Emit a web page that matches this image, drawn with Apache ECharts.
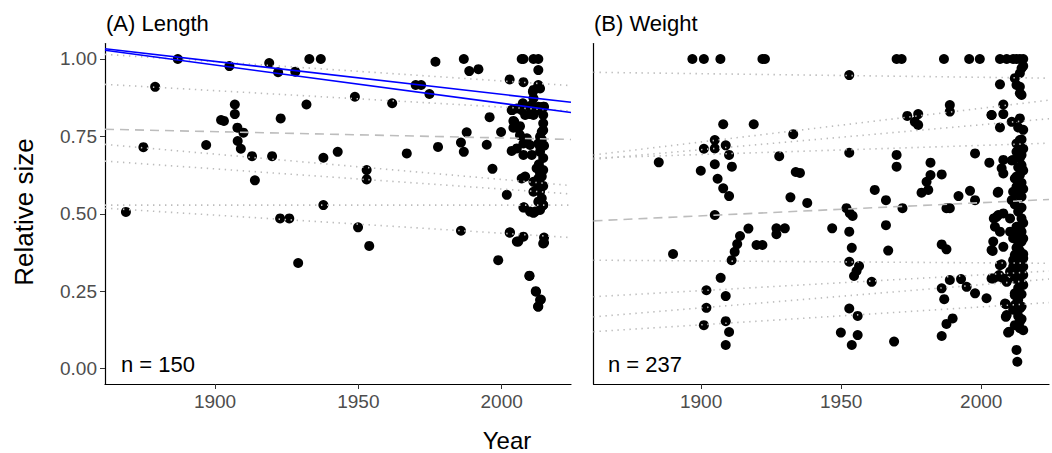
<!DOCTYPE html>
<html><head><meta charset="utf-8">
<script src="https://cdn.jsdelivr.net/npm/echarts@6/dist/echarts.min.js"></script>
<style>html,body{margin:0;padding:0;background:#fff}#c{width:1052px;height:453px}</style>
</head><body><div id="c"></div>
<script>
// ---------- data ----------
const xTicks = [1900, 1950, 2000];
const yTicks = [0, 0.25, 0.5, 0.75, 1];
const xRange = [1861.6, 2024.2];
const yRange = [-0.05, 1.05];

// (A) Length: [year, relative size]
const lengthPoints = [
[1868.9,0.506],[1875.0,0.715],[1879.1,0.910],[1887.0,1.00],[1896.9,0.722],[1902.1,0.803],[1903.1,0.80],[1905.0,0.977],
[1906.9,0.853],[1906.9,0.822],[1907.8,0.778],[1909.9,0.762],[1907.9,0.735],[1909.0,0.71],[1912.9,0.686],[1913.9,0.608],
[1918.9,0.987],[1922.0,0.957],[1922.9,0.808],[1919.9,0.686],[1928.0,0.959],[1931.9,0.853],[1932.9,1.0],[1936.9,1.0],
[1937.8,0.681],[1942.8,0.70],[1937.8,0.528],[1922.7,0.485],[1925.9,0.485],[1929.0,0.341],
[1976.9,0.991],[1986.8,1.0],[1988.7,0.961],[1991.9,0.967],[1948.8,0.878],[1961.8,0.857],[1970.0,0.916],[1971.9,0.916],
[1974.8,0.887],[1966.9,0.695],[1977.8,0.716],[1987.8,0.763],[1985.8,0.73],[1986.8,0.70],[1994.8,0.723],[1995.8,0.812],
[1996.8,0.645],[1999.8,0.764],[2002.8,0.934],[2001.8,0.561],[1952.9,0.641],[1952.9,0.611],[1949.9,0.456],[1953.8,0.396],
[1985.8,0.445],[1998.8,0.35],
[2002.8,0.439],[2005.8,0.41],[2007.6,0.426],[2009.7,0.299],[2011.9,0.25],[2013.7,0.223],[2012.7,0.2],[2014.8,0.423],
[2014.8,0.406],[2007.8,0.521],[2011.1,0.503],[2014.5,0.528],
[2007.0,1.0],[2011.1,1.0],[2012.8,1.0],[2007.6,1.0],[2012.8,0.964],[2007.6,0.925],[2012.8,0.916],[2011.1,0.90],
[2013.4,0.905],[2011.1,0.873],[2007.6,0.851],[2009.9,0.846],[2012.8,0.846],[2014.5,0.846],[2003.5,0.835],[2005.3,0.84],
[2008.2,0.819],[2011.1,0.819],[2014.5,0.819],[2004.1,0.80],[2014.5,0.792],[2004.1,0.778],[2005.8,0.776],[2014.0,0.765],
[2006.4,0.754],[2008.8,0.744],[2013.4,0.749],[2007.6,0.727],[2009.9,0.722],[2012.8,0.727],[2003.5,0.703],[2005.3,0.711],
[2007.6,0.69],[2010.5,0.69],[2013.4,0.717],[2012.2,0.647],[2014.5,0.641],[2013.4,0.63],[2007.0,0.614],[2008.2,0.62],
[2011.1,0.603],[2012.8,0.614],[2014.0,0.587],[2011.1,0.571],[2013.4,0.571],[2014.0,0.55],[2012.8,0.539],[2014.5,0.528],
[2007.6,0.52],[2009.9,0.507],[2011.7,0.507],[2013.4,0.512],[2002.9,0.44],[2005.3,0.41],[2014.5,0.404],[2009.7,0.30],
[2012.0,0.248],[2013.4,0.221],[2012.8,0.2],
[2003.7,0.835],[2007.0,0.835],[2009.9,0.822],[2013.0,0.835],[2014.8,0.846],[2004.4,0.797],[2006.4,0.783],[2010.9,0.894],
[2007.4,0.857],[2010.5,0.851],
[2014.5,0.77],[2014.0,0.74],[2014.8,0.72],[2013.4,0.70],[2014.5,0.68],[2013.0,0.66],[2014.0,0.62],[2013.0,0.60],
[2014.5,0.59],[2012.5,0.58]
];

// (B) Weight: [year, relative size]
const weightPoints = [
[1896.9,1.0],[1901.0,1.0],[1906.9,1.0],[1921.9,1.0],[1922.8,1.0],[1969.8,1.0],[1971.6,1.0],[1986.7,1.0],[1995.7,1.0],[1999.5,1.0],
[1907.9,0.789],[1918.8,0.789],[1932.9,0.757],[1904.9,0.738],[1901.0,0.71],[1904.9,0.711],[1908.8,0.721],[1910.0,0.69],
[1884.9,0.666],[1927.9,0.686],[1904.9,0.66],[1911.0,0.652],[1899.9,0.639],[1933.8,0.635],[1905.9,0.613],[1907.9,0.582],
[1910.0,0.557],[1931.9,0.553],[1937.9,0.535],[1904.9,0.496],[1890.0,0.37],[1916.9,0.452],[1913.9,0.428],[1912.9,0.402],
[1912.0,0.377],[1910.9,0.35],[1919.8,0.399],[1921.9,0.399],[1926.9,0.453],[1929.9,0.453],[1926.9,0.434],[1907.0,0.293],
[1901.9,0.253],[1908.8,0.234],[1901.9,0.196],[1901.0,0.14],[1908.8,0.153],[1910.0,0.118],[1908.8,0.076],
[1952.9,0.948],[1973.6,0.816],[1977.5,0.822],[1976.3,0.797],[1977.5,0.787],[1988.8,0.851],[1988.8,0.83],[2003.7,0.819],
[1952.9,0.697],[1969.8,0.69],[1969.8,0.652],[1981.9,0.665],[1997.8,0.695],[2002.9,0.665],[1935.3,0.632],[1981.9,0.625],
[1985.9,0.627],[1980.5,0.603],[1981.1,0.577],[1978.7,0.568],[1962.0,0.577],[1966.0,0.544],[1951.9,0.518],[1953.1,0.502],
[1954.1,0.493],[1971.9,0.518],[1987.6,0.518],[1988.8,0.518],[1991.9,0.557],[1996.0,0.574],[1997.8,0.544],[2005.9,0.568],
[1946.8,0.453],[1952.9,0.442],[1966.0,0.463],[1953.8,0.39],[1966.8,0.381],[1952.9,0.345],[1956.4,0.331],[1955.5,0.315],
[1954.6,0.299],[1960.9,0.28],[1952.9,0.194],[1955.9,0.17],[1949.9,0.116],[1955.9,0.108],[1953.8,0.076],[1968.9,0.087],
[1985.9,0.401],[1987.6,0.385],[1985.9,0.259],[1986.8,0.224],[1988.8,0.286],[1992.8,0.289],[1994.8,0.264],[1997.8,0.243],
[2001.9,0.227],[1989.8,0.162],[1987.6,0.144],[1985.9,0.105],
[2006.7,1.0],[2009.1,1.0],[2011.4,1.0],[2013.8,1.0],[2012.6,1.0],[2015.0,1.0],
[2015.0,0.977],[2013.8,0.954],[2012.0,0.938],[2012.6,0.916],[2013.8,0.889],[2014.4,0.884],[2014.4,0.97],[2013.8,0.91],
[2006.7,0.918],[2007.9,0.853],[2007.9,0.822],[2003.7,0.819],[2006.7,0.779],[2010.9,0.797],[2013.8,0.808],[2013.2,0.779],
[2015.0,0.771],[2012.6,0.727],[2013.8,0.738],[2007.9,0.674],[2010.9,0.672],[2013.8,0.68],[2014.4,0.657],[2007.3,0.647],
[2007.9,0.63],[2011.4,0.674],[2013.2,0.65],[2013.8,0.625],
[2012.0,0.614],[2012.6,0.587],[2011.4,0.571],[2014.4,0.555],[2006.1,0.571],[2010.9,0.544],
[2005.5,0.49],[2007.9,0.501],[2010.3,0.485],[2013.2,0.507],[2014.4,0.485],
[2004.9,0.458],[2006.7,0.442],[2010.3,0.442],[2012.6,0.458],[2014.4,0.442],
[2011.4,0.421],[2013.2,0.399],[2014.4,0.41],[2004.3,0.41],[2003.7,0.383],[2007.9,0.393],
[2012.0,0.367],[2013.2,0.345],[2011.4,0.329],[2015.0,0.356],[2015.0,0.329],[2007.3,0.337],
[2010.3,0.313],[2013.2,0.308],[2015.0,0.302],[2006.4,0.302],[2004.3,0.291],[2009.1,0.28],[2007.9,0.291],
[2012.0,0.243],[2013.2,0.221],[2012.0,0.205],[2013.8,0.194],[2008.5,0.21],[2009.1,0.173],
[2013.8,0.151],[2015.0,0.124],[2010.0,0.119],[2012.6,0.06],[2012.9,0.022],
[2004.5,0.485],[2006.1,0.496],[2004.1,0.38],[2006.7,0.334],[2003.7,0.291],[2006.1,0.297],
[2008.8,0.208],[2008.8,0.167],[2009.6,0.116],[2012.0,0.237],[2012.6,0.21],
[2014.4,0.74],[2015.0,0.71],[2014.4,0.69],[2012.6,0.70],[2015.0,0.64],[2012.6,0.62],[2014.4,0.60],[2015.0,0.58],
[2013.2,0.56],[2012.0,0.53],[2014.4,0.52],[2015.0,0.47],[2013.8,0.46],[2012.6,0.43],[2015.0,0.42],[2013.8,0.38],
[2012.6,0.39],[2015.0,0.37],[2014.4,0.34],[2011.4,0.35],[2012.6,0.32],[2013.8,0.28],[2015.0,0.27],[2012.0,0.29],
[2013.2,0.26],[2014.4,0.24],[2014.4,0.20],[2011.4,0.19],[2013.2,0.17],[2014.4,0.16],[2012.0,0.14],[2013.8,0.13]
];

// fitted lines: [value at left edge of x range, value at right edge]
const lengthDotted = [[1.015,0.914],[0.918,0.832],[0.724,0.591],[0.670,0.564],[0.518,0.423],[0.528,0.528]];
const lengthDashed = [0.773, 0.740];
const lengthBlue = [[1.033,0.860],[1.028,0.827]];
const weightDotted = [[0.957,0.938],[0.690,0.867],[0.676,0.807],[0.680,0.728],[0.350,0.340],[0.232,0.315],[0.167,0.289],[0.119,0.213]];
const weightDashed = [0.477, 0.546];

// ---------- chart ----------
const FONT = '"Liberation Sans", Arial, Helvetica, sans-serif';
const chart = echarts.init(document.getElementById('c'), null, {renderer: 'svg'});

function seg(v, gi, style, z) {
  return {
    type: 'line', xAxisIndex: gi, yAxisIndex: gi, symbol: 'none', silent: true, z: z,
    lineStyle: style, data: [[xRange[0], v[0]], [xRange[1], v[1]]], animation: false
  };
}
const dotStyle = {color: '#bcbcbc', width: 1.6, type: [1.4, 4.6], cap: 'butt'};
const dashStyle = {color: '#bdbdbd', width: 1.6, type: [9, 6]};
const blueStyle = {color: '#0000ff', width: 1.6};

function xAx(gi) {
  return {
    type: 'value', gridIndex: gi, min: xRange[0], max: xRange[1],
    axisLine: {show: true, onZero: false, lineStyle: {color: '#000', width: 1.2}},
    axisTick: {show: true, customValues: xTicks, length: 5, lineStyle: {color: '#333', width: 1}},
    axisLabel: {customValues: xTicks, margin: 8, color: '#4d4d4d', fontSize: 19, fontFamily: FONT,
      formatter: v => String(v)},
    splitLine: {show: false}
  };
}
function yAx(gi, labels) {
  return {
    type: 'value', gridIndex: gi, min: yRange[0], max: yRange[1],
    axisLine: {show: true, onZero: false, lineStyle: {color: '#000', width: 1.2}},
    axisTick: {show: labels, customValues: yTicks, length: 5, lineStyle: {color: '#333', width: 1}},
    axisLabel: {show: labels, customValues: yTicks, margin: 8, color: '#4d4d4d', fontSize: 19, fontFamily: FONT,
      formatter: v => v.toFixed(2)},
    splitLine: {show: false}
  };
}

const series = [
  {type: 'scatter', xAxisIndex: 0, yAxisIndex: 0, data: lengthPoints, symbolSize: 10,
   itemStyle: {color: '#000', opacity: 1}, z: 2, animation: false},
  {type: 'scatter', xAxisIndex: 1, yAxisIndex: 1, data: weightPoints, symbolSize: 10,
   itemStyle: {color: '#000', opacity: 1}, z: 2, animation: false}
];
lengthDotted.forEach(v => series.push(seg(v, 0, dotStyle, 3)));
series.push(seg(lengthDashed, 0, dashStyle, 3));
lengthBlue.forEach(v => series.push(seg(v, 0, blueStyle, 4)));
weightDotted.forEach(v => series.push(seg(v, 1, dotStyle, 3)));
series.push(seg(weightDashed, 1, dashStyle, 3));

chart.setOption({
  animation: false,
  backgroundColor: '#fff',
  grid: [
    {left: 105, top: 43.5, width: 466, height: 340.5},
    {left: 593.5, top: 43.5, width: 455.5, height: 340.5}
  ],
  xAxis: [xAx(0), xAx(1)],
  yAxis: [yAx(0, true), yAx(1, false)],
  series: series,
  graphic: [
    {type: 'text', left: 106, top: 12, style: {text: '(A) Length', font: '22px ' + FONT, fill: '#000'}},
    {type: 'text', left: 594, top: 12, style: {text: '(B) Weight', font: '22px ' + FONT, fill: '#000'}},
    {type: 'text', left: 121, top: 353, style: {text: 'n = 150', font: '22px ' + FONT, fill: '#000'}},
    {type: 'text', left: 608, top: 353, style: {text: 'n = 237', font: '22px ' + FONT, fill: '#000'}},
    {type: 'text', x: 24, y: 212, rotation: Math.PI / 2,
     style: {text: 'Relative size', font: '26px ' + FONT, fill: '#000', align: 'center', verticalAlign: 'middle'}},
    {type: 'text', x: 507, y: 440,
     style: {text: 'Year', font: '24px ' + FONT, fill: '#000', align: 'center', verticalAlign: 'middle'}}
  ]
});
</script></body></html>
